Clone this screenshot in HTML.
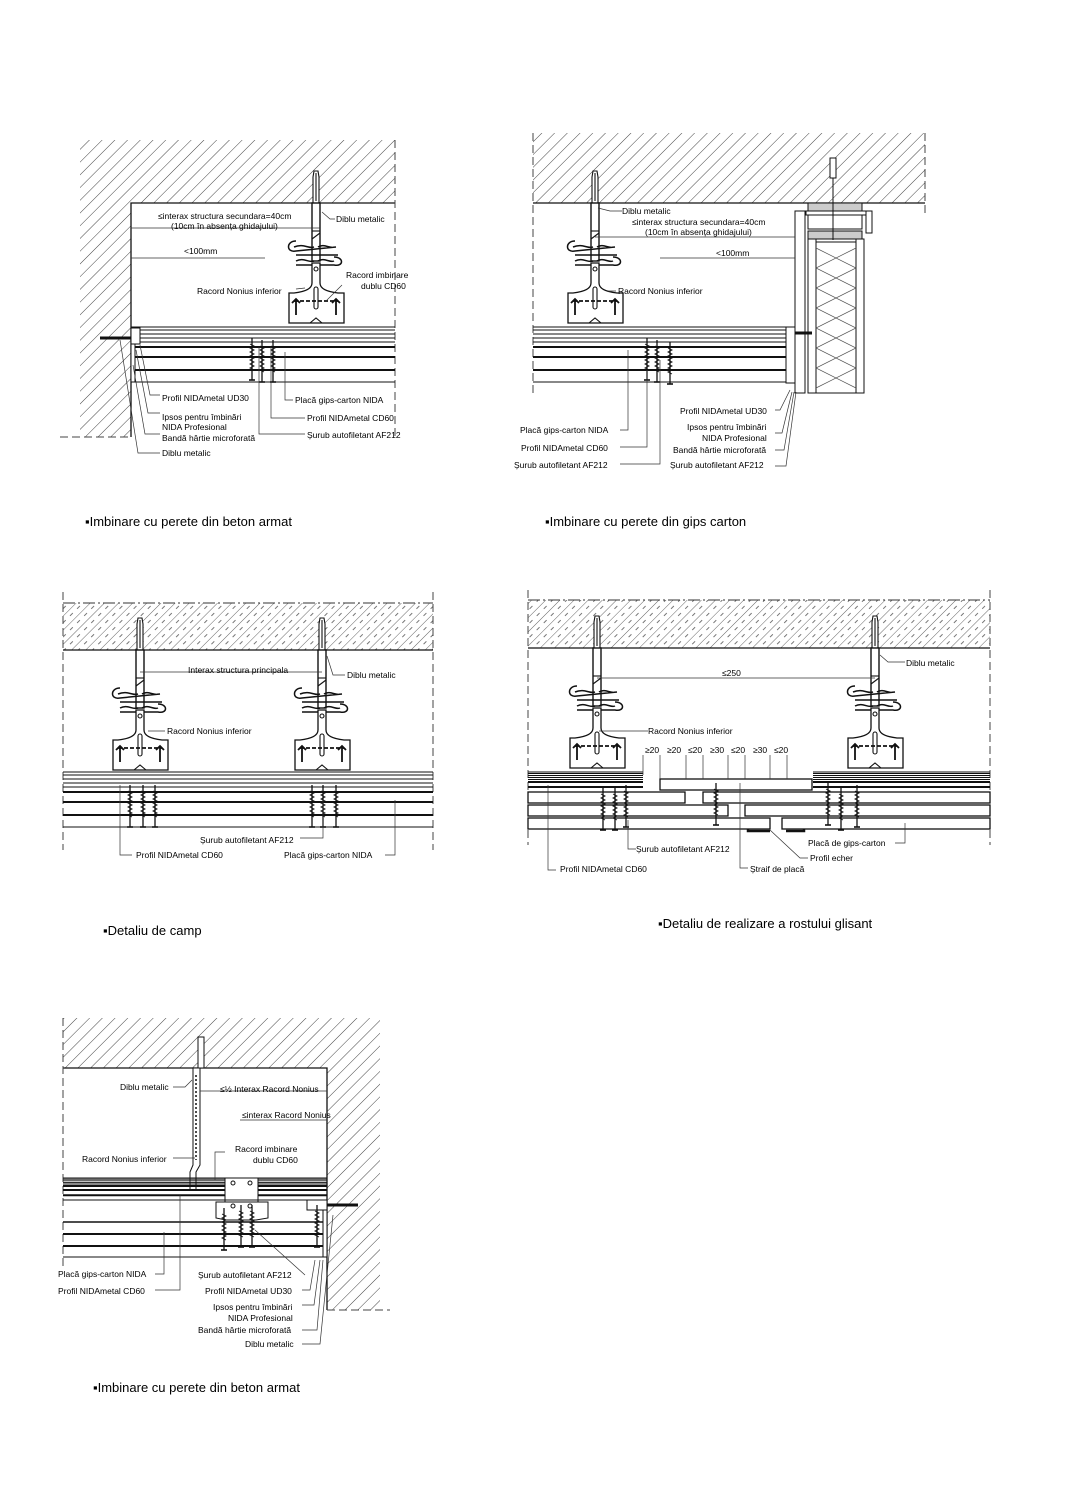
<!DOCTYPE html>
<html><head><meta charset="utf-8"><style>
html,body{margin:0;padding:0;background:#fff;}
svg{display:block;}
text{font-family:"Liberation Sans",sans-serif;font-size:8.5px;fill:#000;}
.cap{font-size:13px;}
</style></head><body>
<svg width="1068" height="1512" viewBox="0 0 1068 1512" xmlns="http://www.w3.org/2000/svg">
<defs>
<pattern id="h" width="9" height="9" patternUnits="userSpaceOnUse" patternTransform="rotate(45)">
<line x1="0" y1="0" x2="0" y2="9" stroke="#444" stroke-width="1"/>
</pattern>
<pattern id="h2" width="10" height="10" patternUnits="userSpaceOnUse" patternTransform="rotate(45)">
<line x1="0" y1="0" x2="0" y2="10" stroke="#555" stroke-width="0.9"/>
<line x1="5" y1="2" x2="5" y2="6" stroke="#666" stroke-width="0.9"/>
</pattern>
<g id="hg" fill="#fff" stroke="#111" stroke-width="1.1">
<path d="M-2,-32 L2,-32 L3,-26 L3,0 L-3,0 L-3,-26 Z" fill="#fff"/>
<line x1="0" y1="-30" x2="0" y2="-2"/>
<rect x="-4" y="0" width="8" height="58" fill="#fff" stroke-width="1.4"/>
<line x1="-4" y1="28" x2="4" y2="28"/>
<line x1="-4" y1="36" x2="4" y2="30"/>
<path d="M-20,38 C-30,38 -30,50 -20,48 L20,44 M-22,44 C-12,40 -8,46 -2,44 M2,44 C8,40 14,46 18,44" fill="none" stroke-width="1.5"/>
<path d="M-20,52 H22 M-20,58 C-12,54 -8,60 -2,58 M2,58 C8,54 14,60 18,58 M-20,62 H 18 C28,64 28,54 18,54" fill="none" stroke-width="1.5"/>
<path d="M-4,60 L-4,80 Q-4,88 -22,90 L-27,90 L-27,120 L28,120 L28,90 L22,90 Q4,88 4,80 L4,60 Z" fill="#fff" stroke-width="1.3"/>
<circle cx="0" cy="66" r="2"/>
<rect x="-2" y="84" width="4" height="22" rx="2"/>
<line x1="-22" y1="98" x2="22" y2="98" stroke-dasharray="4,2" stroke-width="1.8"/>
<path d="M-24,100 L-20,96 L-16,100 M24,100 L20,96 L16,100 M-20,96 V112 M20,96 V112" fill="none" stroke-width="1.8"/>
<path d="M-6,120 L0,115 L6,120" fill="none"/>
</g>
<g id="stk" stroke="#111" fill="none">
<line x1="0" y1="0" x2="1" y2="0" vector-effect="non-scaling-stroke" stroke-width="1.1"/>
<line x1="0" y1="3" x2="1" y2="3" vector-effect="non-scaling-stroke" stroke-width="0.9"/>
<line x1="0" y1="7" x2="1" y2="7" vector-effect="non-scaling-stroke" stroke-width="0.9"/>
<line x1="0" y1="11" x2="1" y2="11" vector-effect="non-scaling-stroke" stroke-width="0.9"/>
<line x1="0" y1="15" x2="1" y2="15" vector-effect="non-scaling-stroke" stroke-width="0.9"/>
<line x1="0" y1="20" x2="1" y2="20" vector-effect="non-scaling-stroke" stroke-width="2"/>
<line x1="0" y1="30" x2="1" y2="30" vector-effect="non-scaling-stroke" stroke-width="2"/>
<line x1="0" y1="43" x2="1" y2="43" vector-effect="non-scaling-stroke" stroke-width="2"/>
<line x1="0" y1="55" x2="1" y2="55" vector-effect="non-scaling-stroke" stroke-width="1.1"/>
</g>
<g id="scr" stroke="#111" fill="none">
<line x1="0" y1="0" x2="0" y2="42" stroke-width="1.3"/>
<path d="M-2,6 L2,8 L-2,10 L2,12 L-2,14 L2,16 L-2,18 L2,20 L-2,22 L2,24 L-2,26 L2,28 L-2,30 L2,32" stroke-width="0.9"/>
<line x1="-3" y1="42" x2="3" y2="42" stroke-width="1.6"/>
</g>
</defs>

<!-- ===== PANEL 1 ===== -->
<rect x="80" y="140" width="315" height="63" fill="url(#h)"/>
<rect x="80" y="203" width="51" height="234" fill="url(#h)"/>
<path d="M131,437 V203 H395" fill="none" stroke="#111" stroke-width="1.3"/>
<line x1="395" y1="140" x2="395" y2="437" stroke="#444" stroke-dasharray="8,4"/>
<line x1="60" y1="437" x2="131" y2="437" stroke="#444" stroke-dasharray="8,4"/>
<use href="#hg" x="316" y="203"/>
<use href="#stk" transform="translate(131,327) scale(264,1)"/>
<rect x="131" y="328" width="9" height="16" fill="#fff" stroke="#111"/>
<rect x="131" y="344" width="4" height="38" fill="#fff" stroke="#111"/>
<path d="M100,338 H131" stroke="#111" stroke-width="3"/>
<use href="#scr" x="252" y="338"/><use href="#scr" x="262" y="340"/><use href="#scr" x="273" y="340"/>
<g stroke="#333" fill="none" stroke-width="0.7">
<line x1="131" y1="228" x2="320" y2="228"/><line x1="131" y1="258" x2="265" y2="258"/>
<path d="M140,345 L150,395 H160 M136,350 L148,413 H160 M133,365 L145,434 H160 M120,340 L138,453 H160"/>
<path d="M285,352 V400 H293 M259,347 V434 H305 M271,347 V418 H305 M322,212 L330,219 H335 M296,289 L305,288 M326,301 L342,285"/>
</g>
<text x="158" y="219">≤interax structura secundara=40cm</text>
<text x="171" y="229">(10cm în absența ghidajului)</text>
<text x="184" y="254">&lt;100mm</text>
<text x="336" y="222">Diblu metalic</text>
<text x="346" y="278">Racord imbinare</text>
<text x="361" y="289">dublu CD60</text>
<text x="197" y="294">Racord Nonius inferior</text>
<text x="162" y="401">Profil NIDAmetal UD30</text>
<text x="162" y="420">Ipsos pentru îmbinări</text>
<text x="162" y="430">NIDA Profesional</text>
<text x="162" y="441">Bandă hârtie microforată</text>
<text x="162" y="456">Diblu metalic</text>
<text x="295" y="403">Placă gips-carton NIDA</text>
<text x="307" y="421">Profil NIDAmetal CD60</text>
<text x="307" y="438">Șurub autofiletant AF212</text>
<text class="cap" x="85" y="526">▪Imbinare cu perete din beton armat</text>

<!-- ===== PANEL 2 ===== -->
<rect x="533" y="133" width="392" height="70" fill="url(#h)"/>
<line x1="533" y1="203" x2="925" y2="203" stroke="#111" stroke-width="1.3"/>
<line x1="533" y1="133" x2="533" y2="395" stroke="#444" stroke-dasharray="8,4"/>
<line x1="925" y1="133" x2="925" y2="215" stroke="#444" stroke-dasharray="8,4"/>
<use href="#hg" x="595" y="203"/>
<use href="#stk" transform="translate(533,327) scale(260,1)"/>
<g fill="#fff" stroke="#111">
<rect x="795" y="211" width="10" height="182"/>
<rect x="806" y="211" width="60" height="4"/>
<rect x="808" y="203" width="54" height="8" fill="#ccc"/>
<rect x="808" y="215" width="54" height="14"/>
<rect x="808" y="231" width="54" height="8" fill="#ccc"/>
<rect x="808" y="239" width="8" height="154"/>
<rect x="816" y="242" width="40" height="151"/>
<rect x="856" y="239" width="8" height="154"/>
<rect x="866" y="211" width="6" height="22"/>
<rect x="786" y="327" width="9" height="56"/>
</g>
<path d="M816,248 L856,268 L816,288 L856,308 L816,328 L856,348 L816,368 L856,388 M856,248 L816,268 L856,288 L816,308 L856,328 L816,348 L856,368 L816,388" fill="none" stroke="#555" stroke-width="0.7"/>
<line x1="833" y1="160" x2="833" y2="240" stroke="#111"/>
<rect x="830" y="158" width="6" height="20" fill="#fff" stroke="#111"/>
<line x1="795" y1="333" x2="812" y2="333" stroke="#111" stroke-width="3"/>
<use href="#scr" x="647" y="338"/><use href="#scr" x="657" y="340"/><use href="#scr" x="670" y="342"/>
<g stroke="#333" fill="none" stroke-width="0.7">
<line x1="595" y1="237" x2="795" y2="237"/><line x1="660" y1="258" x2="795" y2="258"/>
<path d="M598,208 L610,211 H622 M608,291 L616,291 M628,350 V430 H620 M647,370 V447 H620 M660,360 V464 H620 M790,390 L780,410 H775 M792,392 L782,433 H775 M794,392 L784,450 H775 M796,392 L786,466 H775"/>
</g>
<text x="622" y="214">Diblu metalic</text>
<text x="632" y="225">≤interax structura secundara=40cm</text>
<text x="645" y="235">(10cm în absența ghidajului)</text>
<text x="716" y="256">&lt;100mm</text>
<text x="618" y="294">Racord Nonius inferior</text>
<text x="520" y="433">Placă gips-carton NIDA</text>
<text x="521" y="451">Profil NIDAmetal CD60</text>
<text x="514" y="468">Șurub autofiletant AF212</text>
<text x="680" y="414">Profil NIDAmetal UD30</text>
<text x="687" y="430">Ipsos pentru îmbinări</text>
<text x="702" y="441">NIDA Profesional</text>
<text x="673" y="453">Bandă hârtie microforată</text>
<text x="670" y="468">Șurub autofiletant  AF212</text>
<text class="cap" x="545" y="526">▪Imbinare cu perete din gips carton</text>

<!-- ===== PANEL 3 ===== -->
<rect x="63" y="603" width="370" height="47" fill="url(#h2)"/>
<line x1="63" y1="603" x2="433" y2="603" stroke="#333" stroke-dasharray="12,3,2,3"/>
<line x1="63" y1="650" x2="433" y2="650" stroke="#111" stroke-width="1.3"/>
<line x1="63" y1="592" x2="63" y2="850" stroke="#444" stroke-dasharray="8,4"/>
<line x1="433" y1="592" x2="433" y2="850" stroke="#444" stroke-dasharray="8,4"/>
<use href="#hg" x="140" y="650"/>
<use href="#hg" x="322" y="650"/>
<use href="#stk" transform="translate(63,772) scale(370,1)"/>
<use href="#scr" x="130" y="785"/><use href="#scr" x="143" y="785"/><use href="#scr" x="155" y="785"/>
<use href="#scr" x="312" y="785"/><use href="#scr" x="323" y="785"/><use href="#scr" x="336" y="785"/>
<g stroke="#333" fill="none" stroke-width="0.7">
<line x1="140" y1="672" x2="322" y2="672"/>
<path d="M327,656 L333,675 H345 M148,731 H165 M120,785 V855 H132 M323,800 V838 H300 M395,800 V855 H385"/>
</g>
<text x="188" y="673">Interax structura principala</text>
<text x="347" y="678">Diblu metalic</text>
<text x="167" y="734">Racord Nonius inferior</text>
<text x="200" y="843">Șurub autofiletant AF212</text>
<text x="136" y="858">Profil NIDAmetal CD60</text>
<text x="284" y="858">Placă gips-carton NIDA</text>
<text class="cap" x="103" y="935">▪Detaliu de camp</text>

<!-- ===== PANEL 4 ===== -->
<rect x="528" y="600" width="462" height="48" fill="url(#h2)"/>
<line x1="528" y1="600" x2="990" y2="600" stroke="#333" stroke-dasharray="12,3,2,3"/>
<line x1="528" y1="648" x2="990" y2="648" stroke="#111" stroke-width="1.3"/>
<line x1="528" y1="590" x2="528" y2="845" stroke="#444" stroke-dasharray="8,4"/>
<line x1="990" y1="590" x2="990" y2="845" stroke="#444" stroke-dasharray="8,4"/>
<use href="#hg" x="597" y="648"/>
<use href="#hg" x="875" y="648"/>
<g stroke="#111" fill="#fff">
<use href="#stk" transform="translate(528,772) scale(115,0.5)"/>
<use href="#stk" transform="translate(813,772) scale(177,0.5)"/>
<rect x="660" y="779" width="152" height="11" stroke-width="1.3"/>
<rect x="528" y="792" width="157" height="11" stroke-width="1.3"/>
<rect x="703" y="792" width="287" height="11" stroke-width="1.3"/>
<rect x="528" y="805" width="200" height="11" stroke-width="1.3"/>
<rect x="745" y="805" width="245" height="11" stroke-width="1.3"/>
<rect x="528" y="818" width="242" height="11" stroke-width="1.3"/>
<rect x="782" y="818" width="208" height="11" stroke-width="1.3"/>
<path d="M748,829 V831 H770 M804,829 V831 H786" fill="none" stroke-width="2.5"/>
</g>
<use href="#scr" x="603" y="788"/><use href="#scr" x="615" y="788"/><use href="#scr" x="626" y="785"/>
<use href="#scr" x="716" y="783"/>
<use href="#scr" x="828" y="783"/><use href="#scr" x="841" y="788"/><use href="#scr" x="857" y="785"/>
<g stroke="#333" fill="none" stroke-width="0.7">
<line x1="597" y1="678" x2="875" y2="678"/>
<path d="M880,655 L888,662 H905 M599,731 H648 M643,755 V775 M660,755 V779 M686,755 V779 M703,755 V779 M728,755 V779 M745,755 V779 M770,755 V779 M787,755 V779 M548,785 V870 H556 M628,820 V849 H636 M740,783 V868 H748 M770,830 L800,858 H808 M905,823 V843 H895"/>
</g>
<text x="722" y="676">≤250</text>
<text x="906" y="666">Diblu metalic</text>
<text x="648" y="734">Racord Nonius inferior</text>
<text x="645" y="753">≥20</text><text x="667" y="753">≥20</text><text x="688" y="753">≤20</text><text x="710" y="753">≥30</text><text x="731" y="753">≤20</text><text x="753" y="753">≥30</text><text x="774" y="753">≤20</text>
<text x="808" y="846">Placă de gips-carton</text>
<text x="810" y="861">Profil echer</text>
<text x="636" y="852">Șurub autofiletant AF212</text>
<text x="560" y="872">Profil NIDAmetal CD60</text>
<text x="750" y="872">Ștraif de placă</text>
<text class="cap" x="658" y="928">▪Detaliu de realizare a rostului glisant</text>

<!-- ===== PANEL 5 ===== -->
<rect x="63" y="1018" width="317" height="50" fill="url(#h)"/>
<rect x="327" y="1068" width="53" height="242" fill="url(#h)"/>
<path d="M63,1068 H327 V1310" fill="none" stroke="#111" stroke-width="1.3"/>
<line x1="63" y1="1018" x2="63" y2="1270" stroke="#444" stroke-dasharray="8,4"/>
<line x1="327" y1="1310" x2="390" y2="1310" stroke="#444" stroke-dasharray="8,4"/>
<rect x="198" y="1037" width="6" height="31" fill="#fff" stroke="#111"/>
<path d="M193,1068 H200 V1165 L196,1172 V1190 H190 V1172 L193,1165 Z" fill="#fff" stroke="#111"/>
<line x1="196" y1="1075" x2="196" y2="1160" stroke="#111" stroke-width="1.5" stroke-dasharray="2,2"/>
<use href="#stk" transform="translate(63,1178) scale(264,0.4)"/>
<rect x="225" y="1178" width="33" height="30" fill="#fff" stroke="#111"/>
<path d="M216,1202 H268 V1218 L256,1220 H226 L216,1218 Z" fill="#fff" stroke="#111"/>
<circle cx="233" cy="1183" r="2" fill="none" stroke="#111"/><circle cx="250" cy="1183" r="2" fill="none" stroke="#111"/>
<circle cx="233" cy="1206" r="2" fill="none" stroke="#111"/><circle cx="250" cy="1206" r="2" fill="none" stroke="#111"/>
<g stroke="#111" stroke-width="1.1" fill="none">
<line x1="63" y1="1200" x2="327" y2="1200"/>
<line x1="63" y1="1222" x2="327" y2="1222" stroke-width="1.6"/>
<line x1="63" y1="1234" x2="327" y2="1234" stroke-width="2"/>
<line x1="63" y1="1246" x2="327" y2="1246" stroke-width="2"/>
<line x1="63" y1="1257" x2="327" y2="1257"/>
</g>
<rect x="307" y="1200" width="20" height="10" fill="#fff" stroke="#111"/>
<rect x="323" y="1210" width="4" height="47" fill="#fff" stroke="#111"/>
<line x1="327" y1="1205" x2="358" y2="1205" stroke="#111" stroke-width="3"/>
<use href="#scr" x="224" y="1208"/><use href="#scr" x="241" y="1205"/><use href="#scr" x="252" y="1205"/><use href="#scr" x="317" y="1205"/>
<g stroke="#333" fill="none" stroke-width="0.7">
<line x1="200" y1="1091" x2="327" y2="1091"/><line x1="240" y1="1120" x2="327" y2="1120"/>
<path d="M173,1087 H185 L192,1080 M173,1158 H195 M225,1152 H215 V1180 M164,1232 V1274 H155 M180,1195 V1290 H155 M255,1230 L305,1275 M315,1260 L310,1290 H302 M320,1260 L314,1305 H302 M323,1260 L317,1330 H302 M333,1215 L320,1344 H302"/>
</g>
<text x="120" y="1090">Diblu metalic</text>
<text x="220" y="1092">≤½ Interax Racord Nonius</text>
<text x="242" y="1118">≤interax Racord Nonius</text>
<text x="235" y="1152">Racord imbinare</text>
<text x="253" y="1163">dublu CD60</text>
<text x="82" y="1162">Racord Nonius inferior</text>
<text x="58" y="1277">Placă gips-carton NIDA</text>
<text x="58" y="1294">Profil NIDAmetal CD60</text>
<text x="198" y="1278">Șurub autofiletant AF212</text>
<text x="205" y="1294">Profil NIDAmetal UD30</text>
<text x="213" y="1310">Ipsos pentru îmbinări</text>
<text x="228" y="1321">NIDA Profesional</text>
<text x="198" y="1333">Bandă hârtie microforată</text>
<text x="245" y="1347">Diblu metalic</text>
<text class="cap" x="93" y="1392">▪Imbinare cu perete din beton armat</text>
</svg>
</body></html>
